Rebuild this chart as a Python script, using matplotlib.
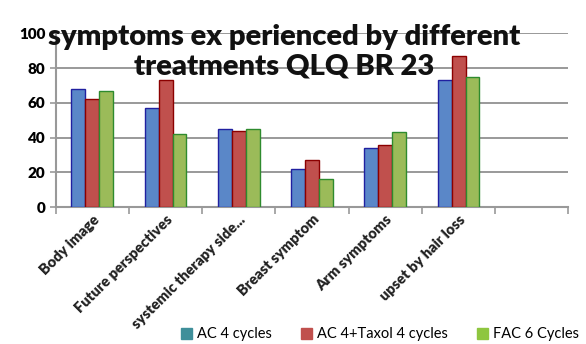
import matplotlib
import numpy as np

matplotlib.use("Agg")
import matplotlib.pyplot as plt
from matplotlib.patches import Patch

categories = ["Body image", "Future perspectives", "systemic therapy side...",
              "Breast symptom", "Arm symptoms", "upset by hair loss", ""]
series = ["AC 4 cycles", "AC 4+Taxol 4 cycles", "FAC 6 Cycles"]
ac4 = [68, 57, 45, 22, 34, 73, np.nan]
ac4_taxol = [62, 73, 44, 27, 36, 87, np.nan]
fac6 = [67, 42, 45, 16, 43, 75, np.nan]

faces = ["#5a87c8", "#c0504d", "#9bbb59"]
edges = ["#2020a0", "#8b0000", "#2e8b2e"]
legend_colors = ["#3f8f9a", "#c0504d", "#8ec63f"]

def main():
    plt.rcParams["font.family"] = ["Lato", "DejaVu Sans"]
    fig = plt.figure(figsize=(5.86, 3.44), dpi=100)
    ax = fig.add_axes([0.095, 0.398, 0.875, 0.505])
    x = np.arange(len(categories))
    w = 0.19
    for i, vals in enumerate([ac4, ac4_taxol, fac6]):
        ax.bar(x + (i - 1) * w, vals, w, color=faces[i], edgecolor=edges[i],
               linewidth=1.0, zorder=3)
    ax.set_xlim(-0.5, len(categories) - 0.5)
    ax.set_ylim(0, 100)
    ax.set_yticks(range(0, 101, 20))
    ax.yaxis.grid(True, color="#888888", linewidth=1.2, zorder=0)
    ax.set_xticks(np.arange(len(categories) + 1) - 0.5, minor=True)
    ax.set_xticks(x)
    ax.set_xticklabels(categories, rotation=45, ha="right", rotation_mode="anchor",
                       fontsize=10.5, fontweight="heavy", color="#222222")
    ax.tick_params(axis="x", which="major", length=0, pad=4)
    ax.tick_params(axis="x", which="minor", length=5, color="#999999", width=1.2)
    ax.tick_params(axis="y", length=4, color="#999999", width=1.2, labelsize=11)
    for lbl in ax.get_yticklabels():
        lbl.set_fontweight("heavy")
    for s in ["top", "right"]:
        ax.spines[s].set_visible(False)
    for s in ["left", "bottom"]:
        ax.spines[s].set_color("#999999")
        ax.spines[s].set_linewidth(1.5)

    fig.text(0.485, 0.85, "symptoms ex perienced by different\ntreatments QLQ BR 23",
             ha="center", va="center", fontsize=21, fontweight="heavy",
             linespacing=1.15, color="#111111")

    handles = [Patch(color=c) for c in legend_colors]
    fig.legend(handles, series, loc="lower right", bbox_to_anchor=(1.01, -0.03),
               ncol=3, frameon=False, fontsize=10.5, handlelength=0.8,
               handleheight=0.8, columnspacing=2.0, handletextpad=0.3)
    fig.savefig("out.png", dpi=100)

if __name__ == "__main__":
    main()
